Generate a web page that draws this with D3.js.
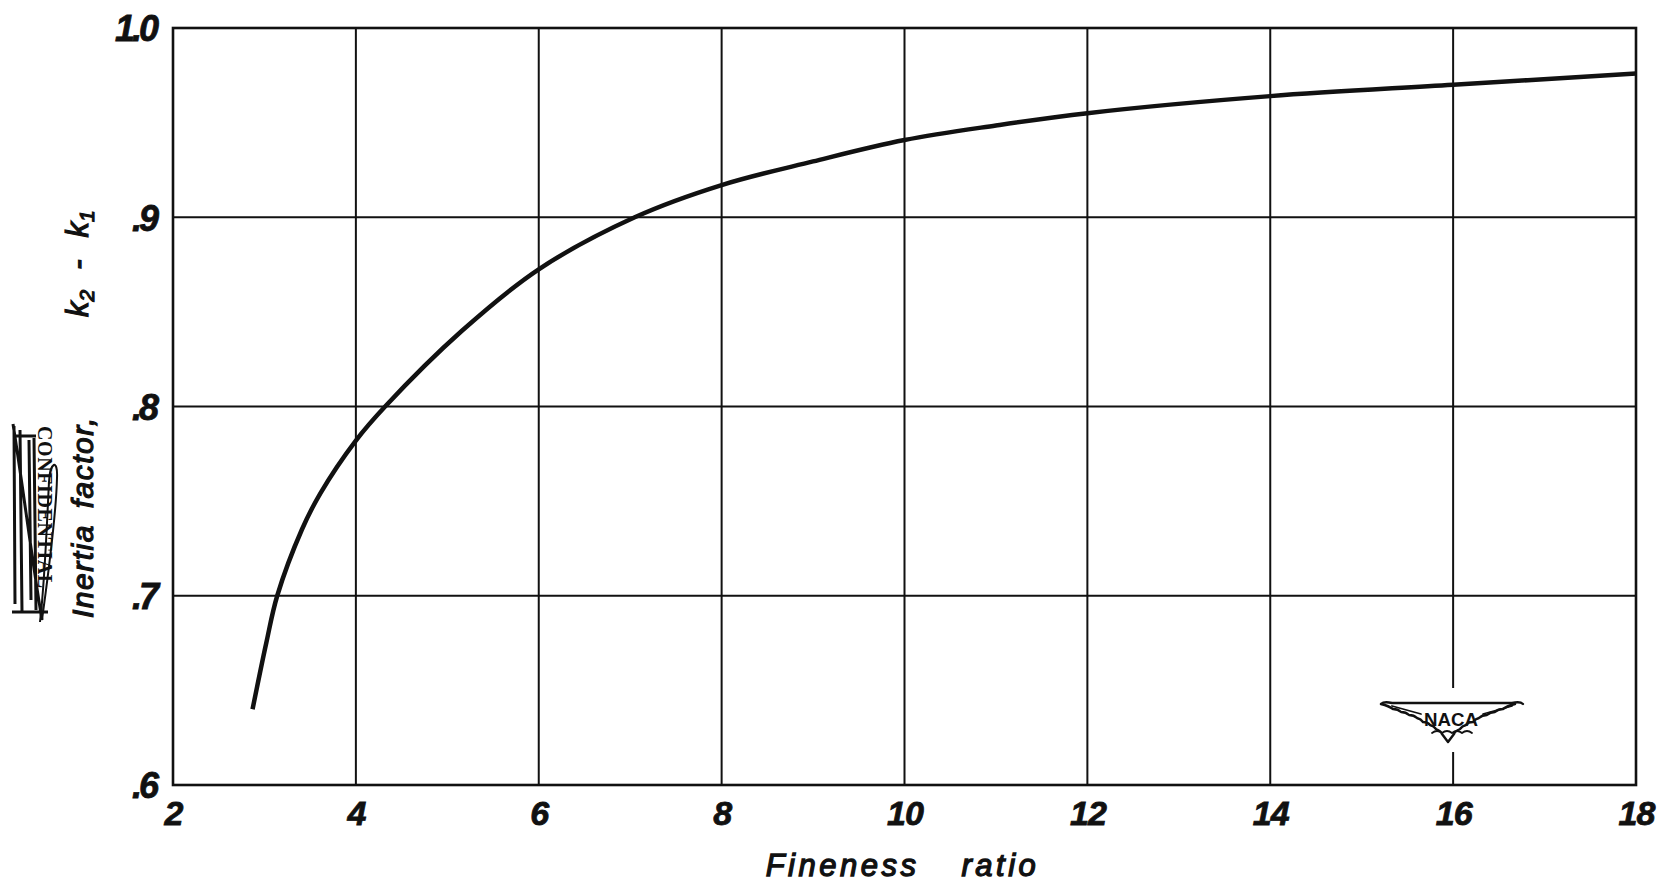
<!DOCTYPE html>
<html>
<head>
<meta charset="utf-8">
<script src="https://cdn.jsdelivr.net/npm/d3@7"></script>
<style>
  body { margin: 0; background: #fff; }
  svg { display: block; }
</style>
</head>
<body>
<svg id="chart" width="1657" height="887"></svg>
<script>
// Inertia factor k2 - k1 against fineness ratio
const finenessRatio = [2.87, 3.02, 3.14, 3.41, 3.61, 4.0, 4.32, 5.16, 6.0, 7.05, 8.0, 9.0, 10.0, 11.0, 12.0, 14.0, 16.0, 18.0];
const inertiaFactor = [0.640, 0.675, 0.700, 0.735, 0.754, 0.782, 0.800, 0.840, 0.8725, 0.900, 0.917, 0.9295, 0.9408, 0.9485, 0.955, 0.964, 0.970, 0.976];

const xTicks = [2, 4, 6, 8, 10, 12, 14, 16, 18];
const xTickLabels = ["2", "4", "6", "8", "10", "12", "14", "16", "18"];
const yTicks = [0.6, 0.7, 0.8, 0.9, 1.0];
const yTickLabels = [".6", ".7", ".8", ".9", "1.0"];

const xTitle = "Fineness ratio";
const yTitleMain = "Inertia factor,";

const svg = d3.select("#chart");
const plotLeft = 173, plotRight = 1636, plotTop = 28, plotBottom = 785;

const x = d3.scaleLinear().domain([2, 18]).range([plotLeft, plotRight]);
const y = d3.scaleLinear().domain([0.6, 1.0]).range([plotBottom, plotTop]);

const ink = "#111";
const tickFont = "'Liberation Sans', Arial, sans-serif";

// grid: interior lines
const grid = svg.append("g").attr("stroke", ink).attr("stroke-width", 2).attr("fill", "none");
yTicks.filter(v => v > 0.6 && v < 1.0).forEach(v => {
  grid.append("line").attr("x1", plotLeft).attr("x2", plotRight).attr("y1", y(v)).attr("y2", y(v));
});
xTicks.filter(v => v > 2 && v < 18).forEach(v => {
  if (v === 16) {
    // the emblem sits on this line, leaving a gap
    grid.append("line").attr("x1", x(v)).attr("x2", x(v)).attr("y1", plotTop).attr("y2", 688);
    grid.append("line").attr("x1", x(v)).attr("x2", x(v)).attr("y1", 752).attr("y2", plotBottom);
  } else {
    grid.append("line").attr("x1", x(v)).attr("x2", x(v)).attr("y1", plotTop).attr("y2", plotBottom);
  }
});

// frame
svg.append("rect")
  .attr("x", plotLeft).attr("y", plotTop)
  .attr("width", plotRight - plotLeft).attr("height", plotBottom - plotTop)
  .attr("fill", "none").attr("stroke", ink).attr("stroke-width", 2.6);

// tick labels through d3 axes
const xAxis = d3.axisBottom(x).tickValues(xTicks)
  .tickFormat((d, i) => xTickLabels[i]).tickSize(0).tickPadding(0);
const gx = svg.append("g").attr("transform", `translate(0,${plotBottom})`).call(xAxis);
gx.select(".domain").remove();
gx.selectAll("text")
  .attr("y", 40).attr("dy", 0)
  .attr("fill", ink)
  .attr("stroke", ink).attr("stroke-width", 0.8)
  .style("font-family", tickFont)
  .style("font-size", "34px")
  .style("font-weight", "bold")
  .style("font-style", "italic")
  .style("letter-spacing", "-1px");

const yAxis = d3.axisLeft(y).tickValues(yTicks)
  .tickFormat((d, i) => yTickLabels[i]).tickSize(0).tickPadding(0);
const gy = svg.append("g").attr("transform", `translate(${plotLeft - 17},0)`).call(yAxis);
gy.select(".domain").remove();
gy.selectAll("text")
  .attr("x", 0).attr("dy", "0.36em")
  .attr("fill", ink)
  .attr("stroke", ink).attr("stroke-width", 0.8)
  .style("font-family", tickFont)
  .style("font-size", "36px")
  .style("font-weight", "bold")
  .style("font-style", "italic")
  .style("letter-spacing", "-3px");

// curve
const line = d3.line()
  .x((d, i) => x(finenessRatio[i]))
  .y(d => y(d))
  .curve(d3.curveCatmullRom.alpha(0.5));
svg.append("path")
  .datum(inertiaFactor)
  .attr("d", line)
  .attr("fill", "none")
  .attr("stroke", ink)
  .attr("stroke-width", 4.5)
  .attr("stroke-linecap", "butt");

// x-axis title
svg.append("text")
  .attr("x", (plotLeft + plotRight) / 2 - 2)
  .attr("y", 876)
  .attr("text-anchor", "middle")
  .attr("fill", ink)
  .attr("stroke", ink).attr("stroke-width", 1.3)
  .style("font-family", tickFont)
  .style("font-size", "31px")
  .style("font-style", "italic")
  .style("letter-spacing", "3.5px")
  .style("word-spacing", "30px")
  .text(xTitle);

// y-axis title (rotated)
const yTitle = svg.append("g")
  .attr("fill", ink).attr("stroke", ink).attr("stroke-width", 1.2)
  .style("font-family", tickFont)
  .style("font-style", "italic");
yTitle.append("text")
  .attr("transform", "translate(93,618) rotate(-90)")
  .attr("text-anchor", "start")
  .style("font-size", "30px")
  .style("letter-spacing", "1.5px")
  .style("word-spacing", "6px")
  .text(yTitleMain);
const kText = yTitle.append("text")
  .attr("transform", "translate(88,317) rotate(-90)")
  .attr("text-anchor", "start")
  .style("font-size", "31px");
kText.append("tspan").text("k");
kText.append("tspan").attr("dy", 6).style("font-size", "21px").text("2");
kText.append("tspan").attr("dy", -6).attr("dx", 20).text("-");
kText.append("tspan").attr("dx", 22).text("k");
kText.append("tspan").attr("dy", 6).style("font-size", "21px").text("1");

// crossed-out classification stamp at the left margin
const stamp = svg.append("g").attr("fill", ink).attr("stroke", ink);
stamp.append("text")
  .attr("transform", "translate(38,426) rotate(90)")
  .attr("text-anchor", "start")
  .attr("stroke", "none")
  .style("font-family", "'Liberation Serif', serif")
  .style("font-size", "20px")
  .style("font-weight", "bold")
  .style("letter-spacing", "0.6px")
  .text("CONFIDENTIAL");
stamp.append("path")
  .attr("fill", "none").attr("stroke-width", 3)
  .attr("d", "M14,426 L15,604 M20,430 L22,612 M29,440 L31,600 M34,438 L36,610 M13,424 C22,480 32,560 42,620 M12,612 L48,612 M16,436 L36,436");
stamp.append("path")
  .attr("fill", "none").attr("stroke-width", 2)
  .attr("d", "M42,620 C46,590 56,520 57,478 C58,458 50,462 49,482 C47,520 45,580 40,622");

// NACA emblem
const emblem = svg.append("g").attr("fill", "none").attr("stroke", ink).attr("stroke-width", 2.4).attr("stroke-linejoin", "round").attr("stroke-linecap", "round");
emblem.append("path")
  .attr("d", "M1381,704 Q1384,701 1392,703 L1512,703 Q1520,701 1523,704");
emblem.append("path")
  .attr("d", "M1381,704 q8,2 12,5 q5,0 8,3 q5,0 8,3 q5,0 8,3 q4,1 6,4 q5,0 7,3 q4,1 6,4 q5,2 6,5 l6,8 l6,-8 q1,-3 6,-5 q2,-3 6,-4 q2,-3 7,-3 q2,-3 6,-4 q3,-3 8,-3 q3,-3 8,-3 q3,-3 8,-3 q4,-3 12,-5");
emblem.append("path")
  .attr("stroke-width", 1.8)
  .attr("d", "M1392,706 L1421,714 M1512,706 L1483,714 M1432,733 q5,-4 10,0 q5,-4 10,0 q5,-4 10,0 q5,-4 10,0");
emblem.append("text")
  .attr("x", 1451).attr("y", 726)
  .attr("text-anchor", "middle")
  .attr("fill", ink).attr("stroke", "none")
  .attr("textLength", 54).attr("lengthAdjust", "spacingAndGlyphs")
  .style("font-family", tickFont)
  .style("font-size", "18px")
  .style("font-weight", "bold")
  .text("NACA");
</script>
</body>
</html>
